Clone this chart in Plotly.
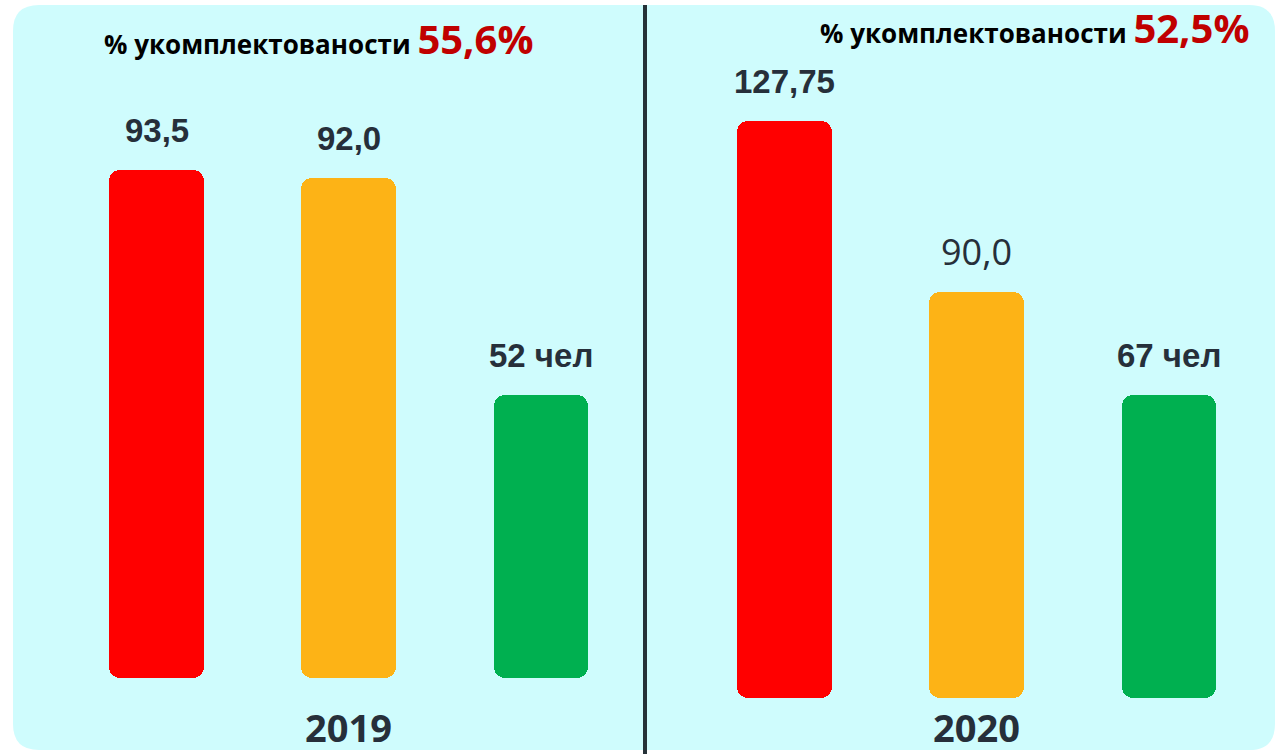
import plotly.graph_objects as go

# ---- data ----
bar_keys = [0, 1, 2]
years = ["2019", "2020"]
values_2019 = [93.5, 92.0, 52]
values_2020 = [127.75, 90.0, 67]
labels_2019 = ["93,5", "92,0", "52 чел"]
labels_2020 = ["127,75", "90,0", "67 чел"]
staffing_title = "% укомплектованости"
staffing_pct = ["55,6%", "52,5%"]
bar_colors = ["#FF0000", "#FDB316", "#00B050"]

W, H = 1281, 754
DARK = "#262F3A"

fig = go.Figure()

panels = [
    dict(vals=values_2019, labels=labels_2019, xa="x", ya="y"),
    dict(vals=values_2020, labels=labels_2020, xa="x2", ya="y2"),
]

for p in panels:
    fig.add_trace(go.Bar(x=bar_keys, y=p["vals"], base=[0] * len(p["vals"]), width=0.494,
                         marker=dict(color=bar_colors, cornerradius=11, line=dict(width=0)),
                         xaxis=p["xa"], yaxis=p["ya"], hoverinfo="skip", showlegend=False))

# value labels
for p in panels:
    for k, v, lab in zip(bar_keys, p["vals"], p["labels"]):
        regular = (lab == "90,0")
        fig.add_annotation(
            x=k, y=v, xref=p["xa"], yref=p["ya"], text=lab, showarrow=False,
            yanchor="middle", yshift=40,
            font=dict(family="Open Sans" if regular else "Liberation Sans",
                      size=36 if regular else 33, color=DARK,
                      weight="normal" if regular else "bold"),
        )

# year labels
for yr, xa in zip(years, ["x", "x2"]):
    fig.add_annotation(x=bar_keys[1], y=1 - 727 / H, xref=xa, yref="paper",
                       text=yr, showarrow=False, yanchor="middle",
                       font=dict(family="Open Sans", size=38, color=DARK, weight="bold"))

# titles
title_pos = [(318, 38), (1034, 27)]
for (cx, cy), pct in zip(title_pos, staffing_pct):
    fig.add_annotation(
        x=cx / W, y=1 - cy / H, xref="paper", yref="paper", showarrow=False,
        yanchor="middle", xanchor="center",
        text=f"<b>{staffing_title} </b><span style='font-size:40px;color:#C00000'><b>{pct}</b></span>",
        font=dict(family="Open Sans", size=26, color="#000000"),
    )

# background panel (rounded rect in paper coords)
def rrect(x0, y0, x1, y1, r):
    X = lambda px: px / W
    Y = lambda py: 1 - py / H
    return (f"M {X(x0 + r)},{Y(y0)} L {X(x1 - r)},{Y(y0)} Q {X(x1)},{Y(y0)} {X(x1)},{Y(y0 + r)} "
            f"L {X(x1)},{Y(y1 - r)} Q {X(x1)},{Y(y1)} {X(x1 - r)},{Y(y1)} "
            f"L {X(x0 + r)},{Y(y1)} Q {X(x0)},{Y(y1)} {X(x0)},{Y(y1 - r)} "
            f"L {X(x0)},{Y(y0 + r)} Q {X(x0)},{Y(y0)} {X(x0 + r)},{Y(y0)} Z")

fig.add_shape(type="path", path=rrect(13, 5, 1275, 750, 26), xref="paper", yref="paper",
              fillcolor="#CFFCFD", line=dict(width=0), layer="below")
fig.add_shape(type="line", x0=645 / W, x1=645 / W, y0=1 - 5 / H, y1=0, xref="paper", yref="paper",
              line=dict(color="#263238", width=4), layer="above")

# axes: place bars at measured pixel positions
step = 192.25
fig.update_layout(
    width=W, height=H, margin=dict(l=0, r=0, t=0, b=0),
    paper_bgcolor="white", plot_bgcolor="rgba(0,0,0,0)",
    barmode="overlay", bargap=0,
    xaxis=dict(domain=[0, 645 / W], range=[-156.5 / step, (645 - 156.5) / step],
               visible=False, fixedrange=True),
    yaxis=dict(domain=[0, 1], range=[-(H - 678) / (508 / 93.5), 678 / (508 / 93.5)],
               visible=False, fixedrange=True),
    xaxis2=dict(domain=[645 / W, 1], range=[(645 - 784.5) / step, (W - 784.5) / step],
                visible=False, fixedrange=True, anchor="y2"),
    yaxis2=dict(domain=[0, 1], range=[-(H - 698) / (577 / 127.75), 698 / (577 / 127.75)],
                visible=False, fixedrange=True, anchor="x2"),
)

fig.write_html("out.html", config={"displayModeBar": False},
               post_script="document.body.style.margin='0';document.body.style.overflow='hidden';")
